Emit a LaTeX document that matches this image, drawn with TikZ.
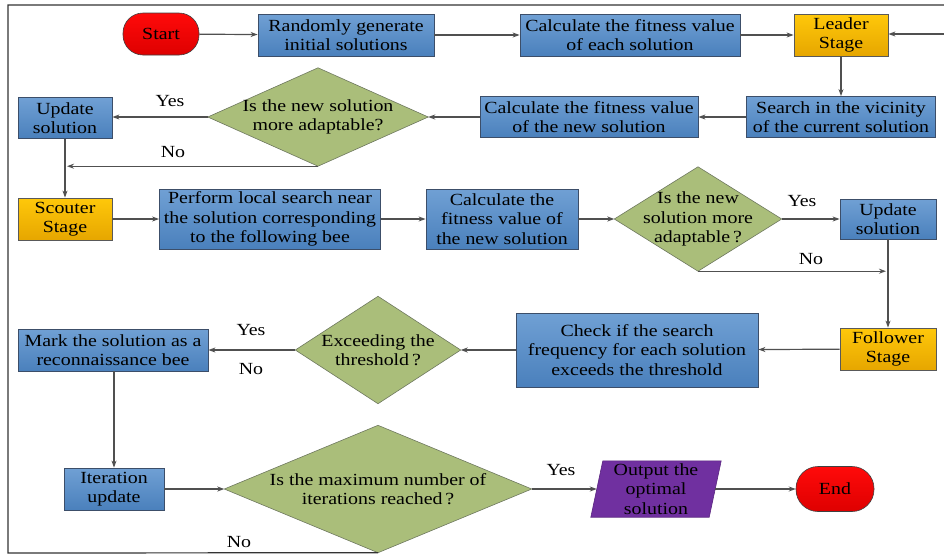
\documentclass[tikz,border=0pt]{standalone}
\usepackage{fontspec}
\setmainfont{Liberation Serif}
\newfontfamily\serwide[FakeStretch=1.17]{Liberation Serif}
\usetikzlibrary{arrows.meta,backgrounds}
\definecolor{bluetop}{RGB}{112,160,212}
\definecolor{bluebot}{RGB}{74,128,188}
\definecolor{blueline}{RGB}{60,78,105}
\definecolor{orgtop}{RGB}{255,200,10}
\definecolor{orgbot}{RGB}{230,166,0}
\definecolor{grn}{RGB}{170,190,122}
\definecolor{grnline}{RGB}{110,120,95}
\definecolor{redtop}{RGB}{255,10,10}
\definecolor{redbot}{RGB}{222,0,0}
\definecolor{purp}{RGB}{112,48,160}
\definecolor{conn}{RGB}{80,80,80}
\begin{document}
\begin{tikzpicture}[x=1pt,y=-1pt,
  every node/.style={font=\serwide\fontsize{17}{19.5}\selectfont, align=center, inner sep=0pt},
  bluebox/.style={draw=blueline, line width=0.8pt, top color=bluetop, bottom color=bluebot},
  stagebox/.style={draw=gray!70!black, line width=0.8pt, top color=orgtop, bottom color=orgbot},
  term/.style={draw=gray!50!black, line width=0.6pt, top color=redtop, bottom color=redbot, rounded corners=20pt},
  diafill/.style={draw=grnline, line width=0.6pt, fill=grn},
  parafill/.style={draw=purp!80!black, line width=0.6pt, fill=purp},
  arr/.style={draw=conn, line width=1.2pt, -{Stealth[length=7pt,width=5pt]}},
  frameline/.style={draw=black!80, line width=1.2pt},
  lbl/.style={font=\serwide\fontsize{17}{19.5}\selectfont}
]
\useasboundingbox (0,0) rectangle (944,555);

% row 1
\node[term, minimum width=76pt, minimum height=42pt] (start) at (161,34) {Start};
\node[bluebox, minimum width=176pt, minimum height=42pt] (rand) at (346,35) {Randomly generate\\initial solutions};
\node[bluebox, minimum width=220pt, minimum height=42pt] (calc1) at (630,35) {Calculate the fitness value\\of each solution};
\node[stagebox, minimum width=94pt, minimum height=42pt] (leader) at (841,35) {Leader\\Stage};

% row 2
\node[bluebox, minimum width=189pt, minimum height=41pt] (search) at (841,117) {Search in the vicinity\\of the current solution};
\node[bluebox, minimum width=218pt, minimum height=41pt] (calc2) at (589,117) {Calculate the fitness value\\of the new solution};
\node[minimum width=220pt, minimum height=98pt] (d1) at (318,117) {Is the new solution\\more adaptable?};
\node[bluebox, minimum width=94pt, minimum height=41pt] (upd1) at (65,118) {Update\\solution};

% row 3
\node[stagebox, minimum width=94pt, minimum height=42pt] (scout) at (65,219) {Scouter\\Stage};
\node[bluebox, minimum width=221pt, minimum height=60pt] (local) at (270,219) {Perform local search near\\the solution corresponding\\to the following bee};
\node[bluebox, minimum width=152pt, minimum height=60pt] (calc3) at (502,219) {Calculate the\\fitness value of\\the new solution};
\node[minimum width=167pt, minimum height=104pt] (d2) at (698,219) {Is the new\\solution more\\adaptable\,?};
\node[bluebox, minimum width=96pt, minimum height=40pt] (upd2) at (888,219) {Update\\solution};

% row 4
\node[stagebox, minimum width=96pt, minimum height=42pt] (follow) at (888,349) {Follower\\Stage};
\node[bluebox, minimum width=242pt, minimum height=74pt] (check) at (637,350) {Check if the search\\frequency for each solution\\exceeds the threshold};
\node[minimum width=165pt, minimum height=107pt] (d3) at (378,350) {Exceeding the\\threshold\,?};
\node[bluebox, minimum width=190pt, minimum height=42pt] (mark) at (113,350) {Mark the solution as a\\reconnaissance bee};

% row 5
\node[bluebox, minimum width=100pt, minimum height=42pt] (iter) at (114,489) {Iteration\\update};
\node[minimum width=307pt, minimum height=127pt] (d4) at (378,489) {Is the maximum number of\\iterations reached\,?};
\node[minimum width=130pt, minimum height=56pt] (out) at (656,489) {Output the\\optimal\\solution};
\node[term, minimum width=78pt, minimum height=45pt, rounded corners=22pt] (endn) at (835,489) {End};

\begin{scope}[on background layer]
  \foreach \d in {d1,d2,d3,d4}
    \path[diafill] (\d.north) -- (\d.east) -- (\d.south) -- (\d.west) -- cycle;
  \path[parafill] ([xshift=12pt]out.north west) -- (out.north east) -- ([xshift=-12pt]out.south east) -- (out.south west) -- cycle;
\end{scope}

% labels
\node[lbl] (y1) at (170,101) {Yes};
\node[lbl] (n1) at (173,152) {No};
\node[lbl] (y2) at (802,201) {Yes};
\node[lbl] (n2) at (811,259) {No};
\node[lbl] (y3) at (251,330) {Yes};
\node[lbl] (n3) at (251,369) {No};
\node[lbl] (y4) at (561,470) {Yes};
\node[lbl] (n4) at (239,542) {No};

% connectors
\draw[arr] (start) -- (rand);
\draw[arr] (rand) -- (calc1);
\draw[arr] (calc1) -- (leader);
\draw[arr] (leader) -- (search);
\draw[arr] (search) -- (calc2);
\draw[arr] (calc2) -- (d1.east);
\draw[arr] (d1.west) -- (upd1.east |- d1.west);
\coordinate (j1) at (upd1.south |- d1.south);
\draw[arr] (d1.south) -- ([xshift=2pt]j1);
\draw[arr] (upd1) -- (scout);
\draw[arr] (scout) -- (local);
\draw[arr] (local) -- (calc3);
\draw[arr] (calc3) -- (d2.west);
\draw[arr] (d2.east) -- (upd2);
\coordinate (j2) at (upd2.south |- d2.south);
\draw[arr] (d2.south) -- ([xshift=-2pt]j2);
\draw[arr] (upd2) -- (follow);
\draw[arr] (follow) -- (check);
\draw[arr] (check) -- (d3.east);
\draw[arr] (d3.west) -- (mark.east |- d3.west);
\draw[arr] (mark.south -| iter.north) -- (iter.north);
\draw[arr] (iter) -- (d4.west);
\draw[arr] (d4.east) -- ([xshift=6pt]out.west);
\draw[arr] ([xshift=-6pt]out.east) -- (endn);

% loop back frame
\coordinate (c1) at (8,553);
\coordinate (c2) at (8,5);
\coordinate (c3) at (960,5);
\coordinate (c4) at (960,34);
\draw[frameline] (d4.south) -- (c1) -- (c2) -- (c3) -- (c4);
\draw[arr] (c4) -- (leader.east |- c4);
\end{tikzpicture}
\end{document}
